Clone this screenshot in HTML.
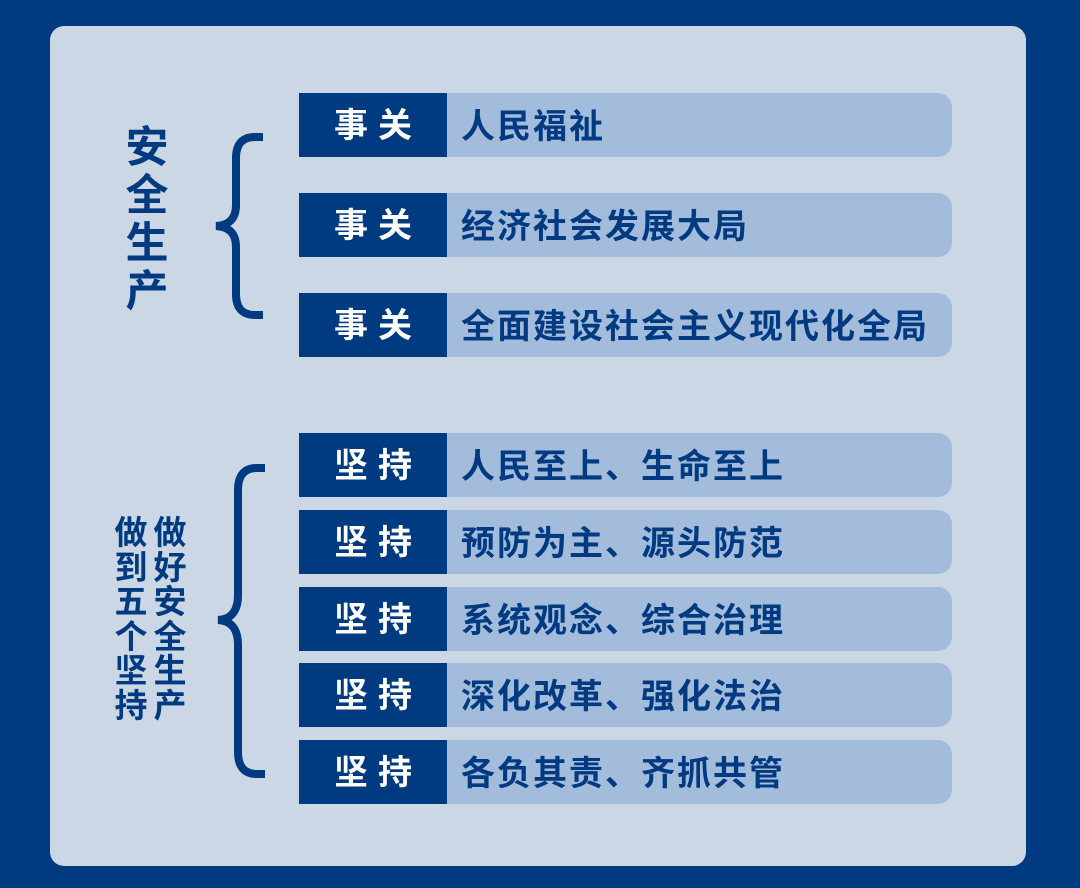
<!DOCTYPE html>
<html><head><meta charset="utf-8"><style>
body{margin:0;width:1080px;height:888px;background:#003a80;position:relative;overflow:hidden;font-family:"Liberation Sans","Noto Sans CJK SC",sans-serif;font-weight:bold}
.panel{position:absolute;left:50px;top:26px;width:976px;height:840px;background:#cbd7e5;border-radius:14px}
.row{position:absolute;left:299px;width:653px;height:64px}
.row .k{position:absolute;left:0;top:0;width:148px;height:64px;background:#003a80;color:#fff;font-size:34px;line-height:66px;text-align:center;letter-spacing:10px;text-indent:10px}
.row .v{position:absolute;left:148px;top:0;right:0;height:64px;background:#a4bcdc;border-radius:0 14px 14px 0;color:#003a80;font-size:34px;line-height:68px;padding-left:14px;letter-spacing:2px}
.col{position:absolute;color:#003a80;text-align:center}
.col div{display:block}
</style></head><body>
<div class="panel"></div>
<div class="col" style="left:122px;top:124px;width:50px;font-size:43px;line-height:48px"><div>安</div><div>全</div><div>生</div><div>产</div></div>
<div class="col" style="left:113px;top:516px;width:36px;font-size:33px;line-height:34.5px"><div>做</div><div>到</div><div>五</div><div>个</div><div>坚</div><div>持</div></div>
<div class="col" style="left:152px;top:516px;width:36px;font-size:33px;line-height:34.5px"><div>做</div><div>好</div><div>安</div><div>全</div><div>生</div><div>产</div></div>
<svg width="1080" height="888" style="position:absolute;left:0;top:0">
<path d="M263 137 H255 Q236 137 236 158 V205 Q236 225 216 226 Q236 227 236 247 V294 Q236 315 255 315 H263" fill="none" stroke="#003a80" stroke-width="8"/>
<path d="M265 468 H257 Q238 468 238 490 V595 Q238 619 218 620 Q238 621 238 645 V752 Q238 774 257 774 H265" fill="none" stroke="#003a80" stroke-width="8"/>
</svg>
<div class="row" style="top:93px"><div class="k">事关</div><div class="v">人民福祉</div></div>
<div class="row" style="top:193px"><div class="k">事关</div><div class="v">经济社会发展大局</div></div>
<div class="row" style="top:293px"><div class="k">事关</div><div class="v">全面建设社会主义现代化全局</div></div>
<div class="row" style="top:433px"><div class="k">坚持</div><div class="v">人民至上、生命至上</div></div>
<div class="row" style="top:510px"><div class="k">坚持</div><div class="v">预防为主、源头防范</div></div>
<div class="row" style="top:587px"><div class="k">坚持</div><div class="v">系统观念、综合治理</div></div>
<div class="row" style="top:663px"><div class="k">坚持</div><div class="v">深化改革、强化法治</div></div>
<div class="row" style="top:740px"><div class="k">坚持</div><div class="v">各负其责、齐抓共管</div></div>
</body></html>
